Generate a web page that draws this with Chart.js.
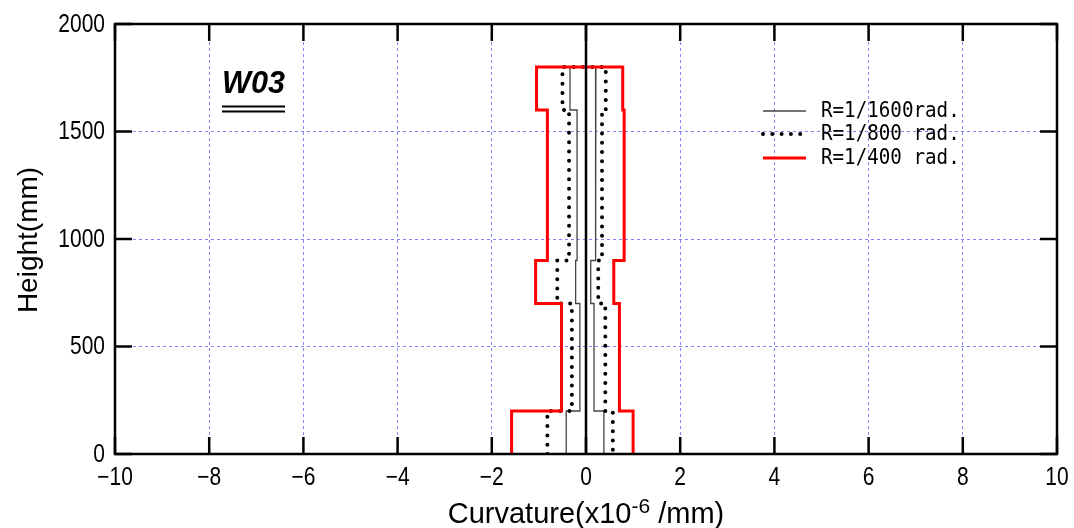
<!DOCTYPE html>
<html>
<head>
<meta charset="utf-8">
<script src="https://cdn.jsdelivr.net/npm/chart.js@4.4.0/dist/chart.umd.min.js"></script>
<style>
  body { margin: 0; background: #fff; }
  canvas { display: block; }
</style>
</head>
<body>
<canvas id="curv" width="1074" height="528"></canvas>
<script>
// step heights (mm) and curvature per segment (x10^-6 /mm)
var heights = [0, 200, 700, 900, 1600, 1800];

var r1600Left  = [-0.42, -0.13, -0.22, -0.19, -0.34];
var r1600Right = [0.38, 0.17, 0.10, 0.20, 0.21];

var r800Left  = [-0.82, -0.30, -0.61, -0.36, -0.50];
var r800Right = [0.57, 0.41, 0.26, 0.34, 0.42];

var r400Left  = [-1.58, -0.52, -1.07, -0.82, -1.05];
var r400Right = [1.00, 0.71, 0.59, 0.81, 0.78];

var xTicks = [-10, -8, -6, -4, -2, 0, 2, 4, 6, 8, 10];
var yTicks = [0, 500, 1000, 1500, 2000];

var legendLabels = ["R=1/1600rad.", "R=1/800 rad.", "R=1/400 rad."];
var wallName = "W03";

// build closed step outline: up the left side, across the top, down the right side
function stepOutline(left, right) {
    var pts = [];
    for (var i = 0; i < left.length; i++) {
        pts.push({x: left[i], y: heights[i]});
        pts.push({x: left[i], y: heights[i + 1]});
    }
    for (var j = right.length - 1; j >= 0; j--) {
        pts.push({x: right[j], y: heights[j + 1]});
        pts.push({x: right[j], y: heights[j]});
    }
    return pts;
}

var gridBlue = "rgba(110,110,255,0.85)";
var tickFont = "25px 'Liberation Sans', Arial, sans-serif";
var squeeze = 0.84;

// narrow text helper
function narrowText(ctx, txt, x, y, align) {
    ctx.save();
    ctx.font = tickFont;
    var w = ctx.measureText(txt).width * squeeze;
    var left = align === "right" ? x - w : (align === "center" ? x - w / 2 : x);
    ctx.translate(left, y);
    ctx.scale(squeeze, 1);
    ctx.textAlign = "left";
    ctx.textBaseline = "middle";
    ctx.fillText(txt, 0, 0);
    ctx.restore();
}

var decorations = {
    id: "decorations",
    afterDatasetsDraw: function (chart) {
        var ctx = chart.ctx;
        var a = chart.chartArea;
        var xs = chart.scales.x, ys = chart.scales.y;
        ctx.save();
        ctx.strokeStyle = "#000";
        ctx.lineWidth = 2.5;
        ctx.setLineDash([]);
        ctx.strokeRect(a.left, a.top, a.right - a.left, a.bottom - a.top);

        // inward ticks on all four sides
        var tl = 17;
        ctx.beginPath();
        xTicks.forEach(function (v) {
            var px = xs.getPixelForValue(v);
            ctx.moveTo(px, a.bottom); ctx.lineTo(px, a.bottom - tl);
            ctx.moveTo(px, a.top); ctx.lineTo(px, a.top + tl);
        });
        yTicks.forEach(function (v) {
            var py = ys.getPixelForValue(v);
            ctx.moveTo(a.left, py); ctx.lineTo(a.left + tl, py);
            ctx.moveTo(a.right, py); ctx.lineTo(a.right - tl, py);
        });
        ctx.stroke();

        // tick labels (condensed)
        ctx.fillStyle = "#000";
        xTicks.forEach(function (v) {
            var t = v < 0 ? "\u2212" + Math.abs(v) : String(v);
            narrowText(ctx, t, xs.getPixelForValue(v), a.bottom + 24, "center");
        });
        yTicks.forEach(function (v) {
            narrowText(ctx, String(v), a.left - 10, ys.getPixelForValue(v) + 1, "right");
        });

        // x axis title with superscript
        ctx.textBaseline = "alphabetic";
        var f1 = "29px 'Liberation Sans', Arial, sans-serif";
        var f2 = "21px 'Liberation Sans', Arial, sans-serif";
        var p1 = "Curvature(x10", p2 = "-6", p3 = " /mm)";
        ctx.font = f1; var w1 = ctx.measureText(p1).width, w3 = ctx.measureText(p3).width;
        ctx.font = f2; var w2 = ctx.measureText(p2).width;
        var sx = 449 + (274 - (w1 + w2 + w3)) / 2;
        var base = 523;
        ctx.font = f1; ctx.textAlign = "left";
        ctx.fillText(p1, sx, base);
        ctx.font = f2; ctx.fillText(p2, sx + w1, base - 10);
        ctx.font = f1; ctx.fillText(p3, sx + w1 + w2, base);

        // y axis title
        ctx.save();
        ctx.translate(37, 240);
        ctx.rotate(-Math.PI / 2);
        ctx.textAlign = "center";
        ctx.font = "28px 'Liberation Sans', Arial, sans-serif";
        ctx.fillText("Height(mm)", 0, 0);
        ctx.restore();

        // legend
        var ds = chart.data.datasets;
        var lx0 = 763, lx1 = 806, tx = 821;
        var ly = [110, 133, 157];
        ctx.font = "20px 'DejaVu Sans Mono', monospace";
        ctx.textAlign = "left";
        ctx.textBaseline = "middle";
        for (var i = 0; i < 3; i++) {
            var d = ds[i];
            ctx.strokeStyle = d.borderColor;
            ctx.lineWidth = d.borderWidth;
            ctx.lineCap = d.borderCapStyle || "butt";
            ctx.setLineDash(d.borderDash || []);
            ctx.beginPath();
            ctx.moveTo(lx0, ly[i] + 1); ctx.lineTo(lx1, ly[i] + 1);
            ctx.stroke();
            ctx.fillStyle = "#000";
            ctx.save();
            ctx.translate(tx, ly[i] + 1);
            ctx.scale(0.96, 1.08);
            ctx.fillText(legendLabels[i], 0, 0);
            ctx.restore();
        }
        ctx.setLineDash([]);
        ctx.lineCap = "butt";

        // wall label with double underline
        ctx.save();
        ctx.font = "italic bold 32px 'Liberation Sans', sans-serif";
        var ww = ctx.measureText(wallName).width;
        ctx.translate(222, 93);
        ctx.scale(63 / ww, 1);
        ctx.textAlign = "left";
        ctx.textBaseline = "alphabetic";
        ctx.fillText(wallName, 0, 0);
        ctx.restore();
        ctx.strokeStyle = "#000";
        ctx.lineWidth = 2;
        ctx.beginPath();
        ctx.moveTo(222, 106.5); ctx.lineTo(285, 106.5);
        ctx.moveTo(222, 111.5); ctx.lineTo(285, 111.5);
        ctx.stroke();
        ctx.restore();
    }
};

var ctx = document.getElementById("curv").getContext("2d");
var myChart = new Chart(ctx, {
    type: "scatter",
    data: {
        datasets: [
            {
                label: legendLabels[0],
                data: stepOutline(r1600Left, r1600Right),
                showLine: true,
                borderColor: "#444",
                borderWidth: 1.3,
                pointRadius: 0,
                order: 3
            },
            {
                label: legendLabels[1],
                data: stepOutline(r800Left, r800Right),
                showLine: true,
                borderColor: "#000",
                borderWidth: 4,
                borderDash: [0, 9.3],
                borderCapStyle: "round",
                pointRadius: 0,
                order: 2
            },
            {
                label: legendLabels[2],
                data: stepOutline(r400Left, r400Right),
                showLine: true,
                borderColor: "#ff0000",
                borderWidth: 3,
                pointRadius: 0,
                order: 1
            },
            {
                label: "zero",
                data: [{x: 0, y: 0}, {x: 0, y: 2000}],
                showLine: true,
                borderColor: "#000",
                borderWidth: 2.5,
                pointRadius: 0,
                order: 0
            }
        ]
    },
    options: {
        responsive: false,
        animation: false,
        layout: { padding: { top: 24, right: 17, left: 0, bottom: 0 } },
        plugins: {
            legend: { display: false },
            tooltip: { enabled: false }
        },
        scales: {
            x: {
                type: "linear",
                min: -10, max: 10,
                afterFit: function (s) { s.height = 74; },
                afterBuildTicks: function (s) { s.ticks = xTicks.map(function (v) { return {value: v}; }); },
                ticks: { display: false },
                grid: {
                    drawTicks: false,
                    color: function (c) { return (c.tick && (c.tick.value === 0 || Math.abs(c.tick.value) === 10)) ? "rgba(0,0,0,0)" : gridBlue; },
                    lineWidth: 1
                },
                border: { display: false, dash: [3, 3] }
            },
            y: {
                type: "linear",
                min: 0, max: 2000,
                afterFit: function (s) { s.width = 115; },
                afterBuildTicks: function (s) { s.ticks = yTicks.map(function (v) { return {value: v}; }); },
                ticks: { display: false },
                grid: {
                    drawTicks: false,
                    color: function (c) { return (c.tick && (c.tick.value === 0 || c.tick.value === 2000)) ? "rgba(0,0,0,0)" : gridBlue; },
                    lineWidth: 1
                },
                border: { display: false, dash: [3, 3] }
            }
        }
    },
    plugins: [decorations]
});
</script>
</body>
</html>
